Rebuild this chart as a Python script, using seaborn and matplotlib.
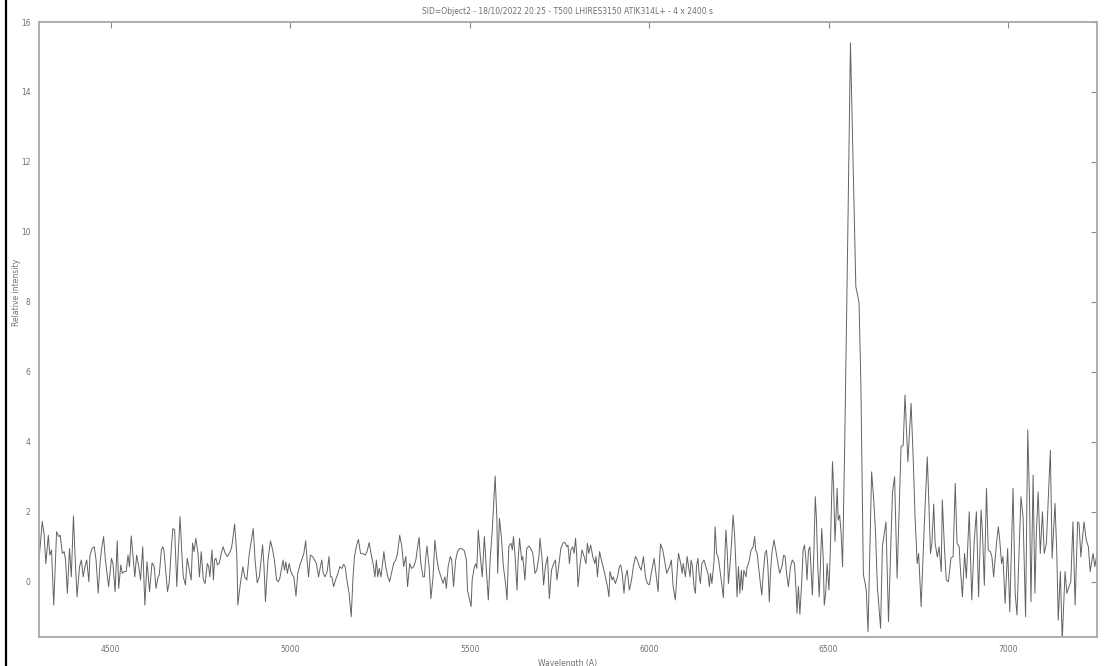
import numpy as np
import pandas as pd
import matplotlib
matplotlib.use("Agg")
import matplotlib.pyplot as plt
from matplotlib.lines import Line2D
import seaborn as sns

TITLE = "SID=Object2 - 18/10/2022 20:25 - T500 LHIRES3150 ATIK314L+ - 4 x 2400 s"
X_LABEL = "Wavelength (A)"
Y_LABEL = "Relative intensity"
X_TICKS = [4500, 5000, 5500, 6000, 6500, 7000]
Y_TICKS = [0, 2, 4, 6, 8, 10, 12, 14, 16]

# spectrum, blue end to red end
wl_blue = [
    4300, 4309, 4314, 4319, 4326, 4330, 4335, 4341, 4349, 4355, 4359, 4365, 4370, 4374, 4379,
    4385, 4390, 4396, 4401, 4406, 4413, 4418, 4423, 4428, 4433, 4439, 4442, 4448, 4454, 4459,
    4465, 4470, 4474, 4480, 4485, 4494, 4502, 4506, 4512, 4518, 4522, 4528, 4532, 4537, 4543,
    4548, 4552, 4557, 4563, 4567, 4572, 4578, 4583, 4589, 4595, 4601, 4608, 4615, 4621, 4626,
    4632, 4635, 4641, 4645, 4648, 4652, 4658, 4663, 4669, 4673, 4678, 4684, 4688, 4693, 4698,
    4702, 4708, 4713, 4719, 4724, 4728, 4732, 4737, 4743, 4747, 4752, 4758, 4763, 4769, 4773,
    4776, 4782, 4786, 4789, 4793, 4797, 4802, 4808, 4813, 4819, 4825, 4830, 4836, 4839, 4845,
    4851, 4854, 4860, 4868, 4873, 4879, 4886,
]
flux_blue = [
    0.62, 1.72, 1.38, 0.52, 1.33, 0.76, 0.91, -0.67, 1.43, 1.29, 1.33, 0.81, 0.86, 0.62, -0.33,
    0.95, 0.14, 1.88, 0.62, -0.43, 0.43, 0.62, 0.14, 0.43, 0.62, 0.0, 0.76, 0.95, 1.0, 0.62,
    -0.33, 0.52, 0.91, 1.29, 0.62, -0.14, 0.67, 0.52, -0.28, 1.17, -0.19, 0.48, 0.24, 0.29, 0.29,
    0.76, 0.43, 1.31, 0.62, 0.14, 0.76, 0.43, 0.05, 1.0, -0.67, 0.57, -0.28, 0.54, 0.43, -0.19,
    0.14, 0.19, 0.91, 1.0, 0.91, 0.43, -0.28, 0.0, 1.0, 1.52, 1.48, -0.14, 0.81, 1.86, 0.81,
    0.14, -0.09, 0.67, 0.33, 0.05, 1.1, 0.86, 1.24, 0.81, 0.14, 0.86, 0.05, -0.05, 0.52, 0.43,
    0.14, 0.91, 0.05, 0.62, 0.67, 0.48, 0.52, 0.81, 1.0, 0.81, 0.72, 0.81, 0.95, 1.14, 1.65,
    0.81, -0.67, -0.14, 0.43, 0.14, 0.05, 0.81,
]

wl_green = [
    4897, 4902, 4908, 4914, 4923, 4927, 4931, 4938, 4945, 4951, 4956, 4962, 4967, 4971, 4975,
    4980, 4984, 4988, 4992, 4997, 5001, 5006, 5010, 5016, 5021, 5027, 5032, 5038, 5043, 5047,
    5051, 5056, 5062, 5068, 5073, 5079, 5084, 5088, 5092, 5097, 5103, 5108, 5112, 5116, 5121,
    5127, 5133, 5138, 5144, 5149, 5153, 5158, 5164, 5170, 5175, 5179, 5184, 5190, 5196, 5201,
    5209, 5214, 5220, 5225, 5231, 5236, 5240, 5244, 5248, 5253, 5261, 5266, 5272, 5277, 5283,
    5288, 5294, 5299, 5305, 5311, 5316, 5322, 5327, 5333, 5338, 5344, 5350, 5355, 5359, 5364,
    5370, 5374, 5377, 5381, 5387, 5392, 5398, 5403, 5409, 5414, 5420, 5426, 5431, 5435, 5440,
    5446, 5450, 5455, 5461, 5466,
]
flux_green = [
    1.52, 0.62, -0.03, 0.14, 1.05, 0.43, -0.57, 0.62, 1.17, 0.91, 0.62, 0.05, 0.0, 0.1, 0.33,
    0.62, 0.33, 0.57, 0.24, 0.52, 0.33, 0.19, 0.14, -0.41, 0.24, 0.48, 0.62, 0.81, 1.17, 0.62,
    0.14, 0.76, 0.72, 0.62, 0.52, 0.14, 0.43, 0.62, 0.24, 0.14, 0.29, 0.72, 0.14, 0.14, -0.14,
    0.07, 0.24, 0.43, 0.38, 0.5, 0.43, 0.05, -0.33, -1.0, 0.14, 0.72, 1.0, 1.21, 0.81, 0.81,
    0.76, 0.86, 1.12, 0.81, 0.52, 0.14, 0.62, 0.14, 0.38, 0.14, 0.86, 0.43, 0.14, 0.0, 0.29,
    0.52, 0.62, 0.81, 1.33, 1.0, 0.43, 0.72, -0.14, 0.52, 0.38, 0.43, 0.62, 1.0, 1.27, 0.52,
    0.14, 0.14, 0.62, 1.02, 0.43, -0.48, 0.14, 1.19, 0.62, 0.33, 0.14, -0.05, 0.14, -0.19, 0.43,
    0.72, 0.62, -0.14, 0.62, 0.86,
]

wl_yellow = [
    5472, 5479, 5485, 5491, 5494, 5500, 5504, 5507, 5513, 5517, 5520, 5524, 5529, 5535, 5541,
    5546, 5552, 5557, 5563, 5571, 5576, 5578, 5583, 5589, 5594, 5600, 5604, 5609, 5615, 5619,
    5622, 5626, 5632, 5635, 5639, 5645, 5648, 5654, 5659, 5665, 5670, 5676, 5682, 5687, 5693,
    5696, 5702, 5706, 5711, 5717, 5722, 5728, 5734, 5739, 5743, 5748, 5754, 5760, 5765, 5771,
    5774, 5778, 5782, 5787, 5791, 5795, 5798, 5802, 5808, 5813, 5819, 5824, 5828, 5832, 5837,
    5843, 5849, 5852, 5856, 5862, 5867, 5873, 5878, 5884, 5888, 5891, 5897, 5900, 5906, 5912,
    5917, 5921, 5925, 5930, 5934, 5939, 5945, 5951, 5956, 5962, 5967, 5973, 5978, 5984, 5990,
    5995, 6001, 6006, 6014, 6019, 6025, 6029, 6032, 6038, 6043, 6049, 6057,
]
flux_yellow = [
    0.95, 0.94, 0.89, 0.62, -0.24, -0.52, -0.71, 0.05, 0.43, 0.51, 0.38, 1.48, 0.81, 0.14, 1.29,
    0.43, -0.52, 0.62, 1.48, 3.02, 1.76, 0.24, 1.81, 1.19, 0.43, -0.05, -0.52, 1.0, 1.1, 0.91,
    1.29, 0.81, -0.24, 0.62, 1.24, 0.62, 0.72, 0.05, 0.95, 1.02, 0.95, 0.81, 0.24, 0.33, 0.72,
    1.24, 0.62, -0.09, 0.43, 0.72, -0.48, 0.33, 0.52, 0.62, 0.05, 0.43, 0.95, 1.1, 1.13, 1.0,
    1.05, 0.52, 0.91, 1.0, 0.81, 1.24, 0.81, -0.14, 0.52, 0.91, 0.72, 0.52, 1.1, 0.81, 1.05,
    0.72, 0.52, 0.72, 0.14, 0.86, 0.62, 0.38, 0.14, -0.14, -0.43, 0.29, 0.05, 0.14, -0.05, 0.14,
    0.43, 0.48, 0.24, -0.33, 0.14, 0.33, -0.24, 0.05, 0.43, 0.72, 0.62, 0.43, 0.33, 0.72, 0.14,
    -0.05, -0.09, 0.24, 0.67, 0.24, -0.28, 0.62, 1.08, 0.91, 0.62, 0.24, 0.43,
]

wl_red = [
    6062, 6067, 6073, 6079, 6082, 6088, 6092, 6095, 6101, 6106, 6110, 6114, 6117, 6121, 6125,
    6129, 6132, 6136, 6140, 6143, 6147, 6153, 6158, 6164, 6168, 6171, 6175, 6181, 6184, 6188,
    6192, 6195, 6201, 6207, 6210, 6214, 6218, 6221, 6225, 6229, 6234, 6238, 6242, 6245, 6249,
    6253, 6257, 6260, 6264, 6270, 6273, 6277, 6281, 6284, 6290, 6294, 6297, 6301, 6305, 6309,
    6314, 6318, 6323, 6327, 6331, 6335, 6338, 6342, 6348, 6353, 6359, 6364, 6370, 6375, 6379,
    6383, 6388, 6394, 6399, 6405, 6409, 6412, 6416, 6420, 6425, 6429, 6433, 6437, 6440, 6444,
    6448, 6451, 6455, 6459, 6463, 6466, 6470, 6474, 6477, 6481, 6485, 6488, 6492, 6496, 6501,
    6505, 6511, 6514, 6518, 6524, 6527, 6531, 6535, 6539, 6545, 6553, 6561, 6576, 6585, 6590,
    6597, 6602, 6605, 6610, 6620, 6626, 6631, 6636,
]
flux_red = [
    0.62, -0.14, -0.52, 0.43, 0.81, 0.52, 0.24, 0.52, 0.14, 0.72, 0.43, 0.14, 0.62, 0.43, -0.14,
    -0.33, 0.43, 0.67, 0.14, -0.05, 0.52, 0.62, 0.43, 0.24, -0.14, 0.24, -0.05, 0.62, 1.57, 0.81,
    0.72, 0.52, 0.05, -0.45, 0.43, 1.48, 0.81, -0.05, 0.43, 1.0, 1.9, 1.38, 0.43, -0.43, 0.43,
    -0.33, 0.33, -0.24, 0.33, 0.14, 0.43, 0.52, 0.72, 0.9, 1.0, 1.29, 0.9, 0.81, 0.43, 0.05,
    -0.38, 0.24, 0.81, 0.9, 0.43, -0.58, 0.24, 0.81, 1.19, 0.9, 0.52, 0.24, 0.43, 0.76, 0.72,
    0.24, -0.14, 0.43, 0.62, 0.52, -0.14, -0.9, -0.14, -0.93, -0.05, 0.9, 1.05, 0.62, 0.05, 0.9,
    1.0, 0.43, -0.38, 0.81, 2.43, 1.86, 0.43, -0.43, 0.43, 1.52, 0.72, -0.67, -0.33, 0.52, -0.24,
    0.9, 3.43, 2.72, 1.15, 2.67, 1.76, 1.9, 1.38, 0.43, 3.9, 9.5, 15.4, 8.44, 7.98, 5.69,
    0.2, -0.05, -0.24, -1.43, 3.14, 2.33, 1.38, -0.14,
]

wl_far = [
    6645, 6650, 6660, 6667, 6678, 6684, 6688, 6691, 6702, 6708, 6713, 6721, 6730, 6736, 6741,
    6747, 6751, 6758, 6764, 6769, 6775, 6778, 6784, 6788, 6793, 6797, 6803, 6808, 6814, 6817,
    6823, 6828, 6834, 6841, 6847, 6853, 6858, 6864, 6867, 6873, 6879, 6884, 6892, 6899, 6906,
    6912, 6918, 6925, 6929, 6934, 6940, 6945, 6951, 6955, 6960, 6968, 6973, 6977, 6982, 6986,
    6992, 6999, 7005, 7014, 7020, 7025, 7036, 7042, 7049, 7055, 7060, 7064, 7070, 7075, 7079,
    7084, 7090, 7096, 7101, 7107, 7118, 7123, 7131, 7136, 7140, 7146, 7151, 7159, 7164, 7170,
    7175, 7181, 7187, 7194, 7198, 7203, 7207, 7212, 7218, 7224, 7229, 7237, 7242, 7248,
]
flux_far = [
    -1.33, 1.0, 1.71, -1.14, 2.53, 3.0, 1.38, 0.1, 3.86, 3.9, 5.34, 3.43, 5.1, 3.48, 1.86,
    0.52, 0.81, -0.71, 0.9, 2.15, 3.57, 2.72, 0.81, 1.1, 2.22, 1.1, 0.71, 1.0, 0.29, 2.34,
    0.95, 0.05, 0.0, 0.67, 0.72, 2.81, 1.1, 1.0, 0.43, -0.43, 0.81, 0.1, 2.0, -0.52, 1.19,
    2.0, -0.43, 2.05, 1.38, -0.1, 2.67, 0.9, 0.86, 0.72, 0.14, 1.1, 1.57, 1.19, 0.52, 0.72,
    -0.62, 0.95, -0.86, 2.67, -0.33, -0.95, 2.43, 1.86, -1.0, 4.34, 2.33, -0.57, 3.05, -0.33, 1.38,
    2.57, 0.81, 2.0, 0.81, 1.1, 3.76, 0.67, 2.24, 0.81, -1.1, 0.29, -1.7, 0.29, -0.33, -0.14,
    0.0, 1.71, -0.67, 1.71, 1.67, 0.71, 1.19, 1.71, 1.19, 1.0, 0.29, 0.81, 0.43, 0.81,
]

spec = pd.DataFrame({
    "wavelength": wl_blue + wl_green + wl_yellow + wl_red + wl_far,
    "intensity": flux_blue + flux_green + flux_yellow + flux_red + flux_far,
})

sns.set_style("white")
plt.rcParams["font.family"] = ["DejaVu Sans"]

grey = "#8a8a8a"
fig = plt.figure(figsize=(11.04, 6.66), dpi=100)
ax = fig.add_axes([39 / 1104, 29 / 666, 1058 / 1104, 615 / 666])

sns.lineplot(data=spec, x="wavelength", y="intensity", ax=ax, estimator=None,
             color="#626262", linewidth=0.7)

ax.set_xlim(4300, 7248)
ax.set_ylim(-1.58, 16)
ax.set_xticks(X_TICKS)
ax.set_yticks(Y_TICKS)
ax.tick_params(axis="both", direction="in", length=4, width=0.8, color=grey,
               labelcolor="#707070", labelsize=5.5, top=True, right=True, pad=6)
for s in ax.spines.values():
    s.set_color("#a8a8a8")
    s.set_linewidth(1.3)

ax.set_title(TITLE, fontsize=5.5, color="#707070", pad=6)
ax.set_xlabel(X_LABEL, fontsize=5.5, color="#707070", labelpad=3)
ax.set_ylabel(Y_LABEL, fontsize=5.5, color="#707070")
ax.yaxis.set_label_coords(-0.017, 0.56)

# dark frame edge at the far left of the screenshot
fig.add_artist(Line2D([6 / 1104, 6 / 1104], [0, 1], color="black", linewidth=1.6))

fig.savefig("out.png", dpi=100)
plt.close(fig)
